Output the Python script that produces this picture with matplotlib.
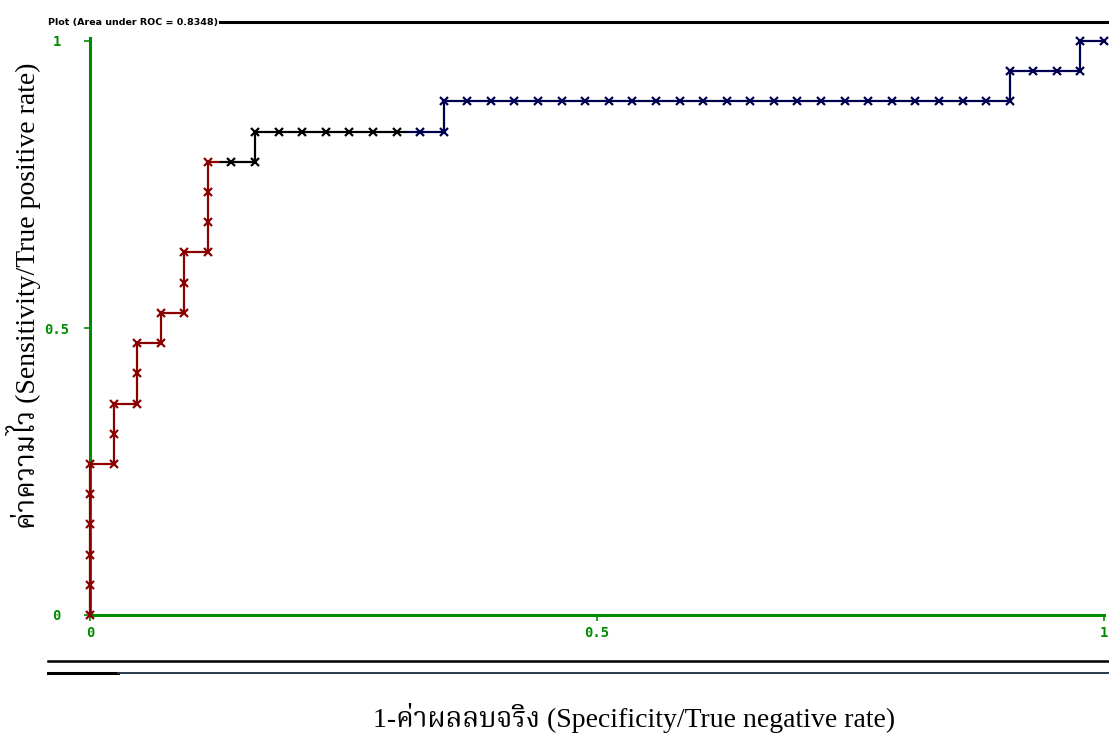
import matplotlib
matplotlib.use("Agg")
import matplotlib.pyplot as plt
from matplotlib.lines import Line2D
from matplotlib import font_manager as fm

# ---- data (counts) ----
n_neg = 43
n_pos = 19
fp_counts = [0, 0, 0, 0, 0, 0, 1, 1, 1, 2, 2, 2, 3, 3, 4, 4, 4, 5, 5, 5, 5, 6, 7,
             7, 8, 9, 10, 11, 12, 13, 14, 15,
             15, 16, 17, 18, 19, 20, 21, 22, 23, 24, 25, 26, 27, 28, 29, 30, 31,
             32, 33, 34, 35, 36, 37, 38, 39,
             39, 40, 41, 42, 42, 43]
tp_counts = [0, 1, 2, 3, 4, 5, 5, 6, 7, 7, 8, 9, 9, 10, 10, 11, 12, 12, 13, 14, 15, 15, 15,
             16, 16, 16, 16, 16, 16, 16, 16, 16,
             17, 17, 17, 17, 17, 17, 17, 17, 17, 17, 17, 17, 17, 17, 17, 17, 17,
             17, 17, 17, 17, 17, 17, 17, 17,
             18, 18, 18, 18, 19, 19]
# colour group of each point: 0 = red, 1 = black, 2 = navy
groups = [0] * 21 + [1] * 9 + [2] * (len(fp_counts) - 30)
group_colors = ["#8b0000", "#000000", "#000050"]

title_text = "Plot (Area under ROC = 0.8348)"
xtick_vals = [0, 0.5, 1]
xtick_labels = ["0", "0.5", "1"]
ytick_vals = [0, 0.5, 1]
ytick_labels = ["0", "0.5", "1"]
xlabel = "1-ค่าผลลบจริง (Specificity/True negative rate)"
ylabel = "ค่าความไว (Sensitivity/True positive rate)"

# ---- fonts ----
names = {f.name for f in fm.fontManager.ttflist}
thai = None
for cand in ["Noto Serif Thai", "Taviraj", "Trirong", "Noto Sans Thai", "Sarabun", "Tlwg Typo"]:
    if cand in names:
        thai = cand
        break
serif_family = ["Liberation Serif"] + ([thai] if thai else []) + ["DejaVu Serif"]

W, H = 1109, 733
fig = plt.figure(figsize=(W / 100, H / 100), dpi=100)
fig.patch.set_facecolor("white")

def fx(px):
    return px / W

def fy(py):
    return 1 - py / H

ax = fig.add_axes([fx(90), fy(615), fx(1104) - fx(90), fy(41) - fy(615)])
ax.set_xlim(0, 1)
ax.set_ylim(0, 1)

xs = [c / n_neg for c in fp_counts]
ys = [c / n_pos for c in tp_counts]

# segments, each half coloured by its end point
for i in range(len(xs) - 1):
    mx = (xs[i] + xs[i + 1]) / 2
    my = (ys[i] + ys[i + 1]) / 2
    ax.plot([xs[i], mx], [ys[i], my], color=group_colors[groups[i]], lw=1.6,
            solid_capstyle="butt", zorder=3, clip_on=False)
    ax.plot([mx, xs[i + 1]], [my, ys[i + 1]], color=group_colors[groups[i + 1]], lw=1.6,
            solid_capstyle="butt", zorder=3, clip_on=False)
for g, c in enumerate(group_colors):
    gx = [x for x, gg in zip(xs, groups) if gg == g]
    gy = [y for y, gg in zip(ys, groups) if gg == g]
    ax.plot(gx, gy, linestyle="none", marker="x", markersize=5.5, mew=1.6, color=c,
            zorder=4, clip_on=False)

green = "#008c00"
for s in ["top", "right"]:
    ax.spines[s].set_visible(False)
ax.spines["left"].set_color(green)
ax.spines["bottom"].set_color(green)
ax.spines["left"].set_linewidth(2.2)
ax.spines["bottom"].set_linewidth(2.2)
ax.spines["left"].set_bounds(0, 1.005)

ax.set_xticks(xtick_vals)
ax.set_xticklabels(xtick_labels)
ax.set_yticks(ytick_vals)
ax.set_yticklabels(ytick_labels, ha="center")
ax.tick_params(axis="both", colors=green, length=4, width=1.2,
               labelsize=10)
ax.tick_params(axis="x", pad=4)
ax.tick_params(axis="y", pad=20)
for lab in ax.get_xticklabels() + ax.get_yticklabels():
    lab.set_fontfamily("DejaVu Sans Mono")
    lab.set_fontweight("bold")
    lab.set_color(green)

# axis labels
fig.text(fx(634), fy(718), xlabel, ha="center", va="center", fontsize=20,
         family=serif_family)
fig.text(fx(24), fy(296), ylabel, ha="center", va="center", fontsize=20,
         rotation=90, family=serif_family)

# title and frame lines
fig.text(fx(48), fy(22), title_text, ha="left", va="center", fontsize=6.8,
         fontweight="bold", family="DejaVu Sans", color="black")
fig.add_artist(Line2D([fx(220), fx(1109)], [fy(22), fy(22)], color="black", lw=2.2))
fig.add_artist(Line2D([fx(48), fx(1109)], [fy(661), fy(661)], color="black", lw=1.8))
fig.add_artist(Line2D([fx(48), fx(118)], [fy(673), fy(673)], color="black", lw=2.2))
fig.add_artist(Line2D([fx(118), fx(1109)], [fy(673), fy(673)], color="#2a3a4a", lw=1.4))

fig.savefig("out.png", dpi=100, facecolor="white")
